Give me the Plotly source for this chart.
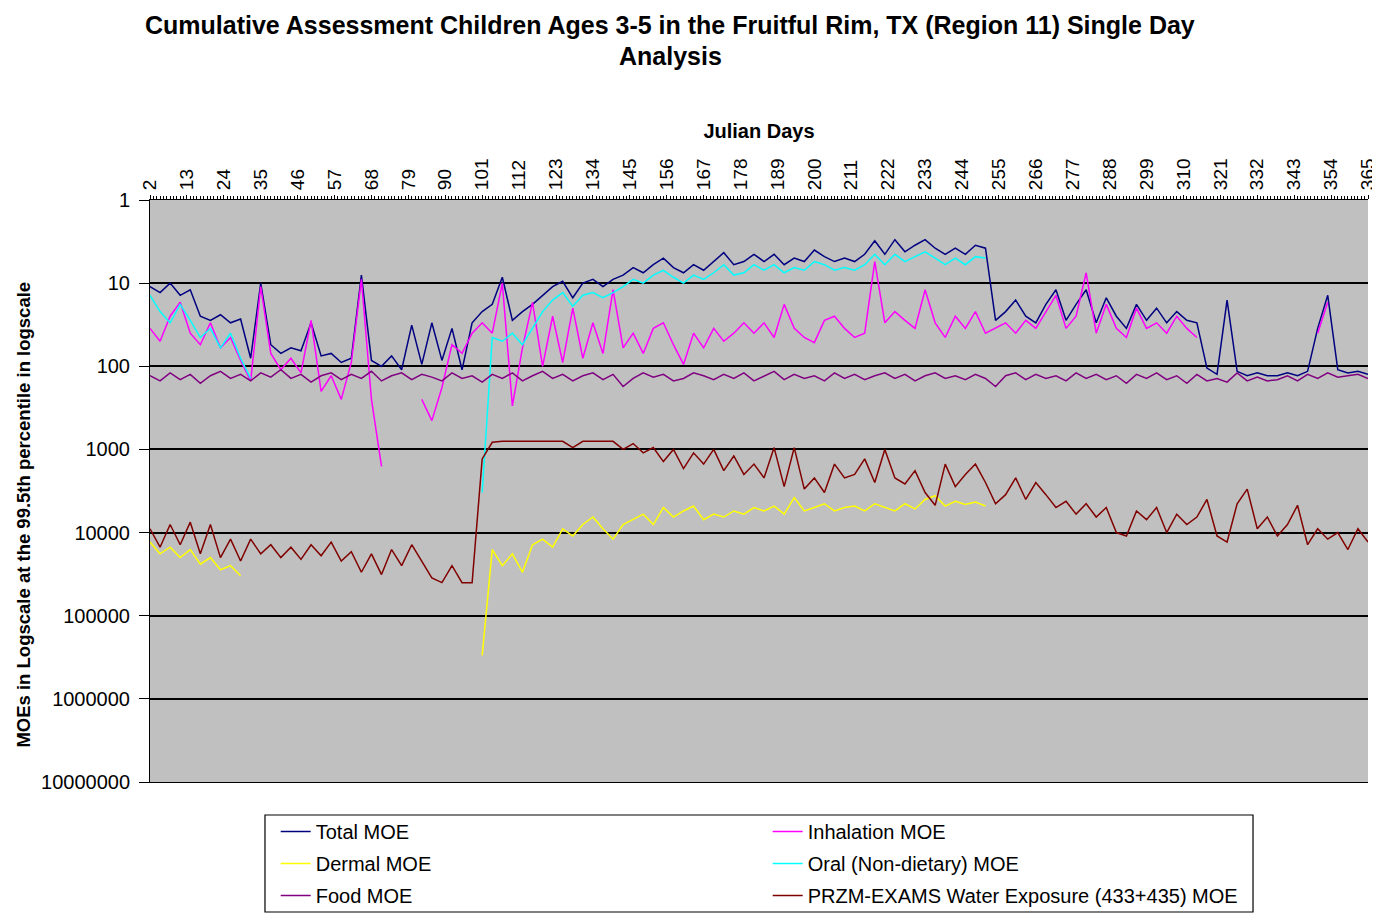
import plotly.graph_objects as go

# Julian day sample positions (every 3rd day)
days = list(range(2, 366, 3))

total_moe = [11, 13, 10, 14, 12, 25, 28, 24, 30, 27,
             80, 10, 55, 70, 60, 65, 30, 75, 70, 90,
             80, 8, 85, 100, 75, 110, 32, 95, 30, 85,
             35, 110, 30, 22, 18, 8.5, 28, 22, 18, 14,
             11, 9.5, 15, 10, 9, 11, 9, 8, 6.5, 7.5,
             6, 5, 6.5, 7.5, 6, 7, 5.5, 4.3, 6, 5.5,
             4.5, 5.5, 4.5, 6, 5, 5.5, 4, 4.8, 5.5, 5,
             5.5, 4.5, 3.1, 4.5, 3.0, 4.2, 3.5, 3.0, 3.8, 4.5,
             3.8, 4.5, 3.5, 3.8, 28, 22, 16, 25, 30, 18,
             12, 28, 18, 12, 30, 15, 25, 35, 18, 28,
             20, 30, 22, 28, 30, 105, 125, 16, 115, 130,
             120, 130, 130, 120, 130, 115, 35, 14, 110, 120,
             115, 125]

inhalation_moe = [35, 50, 25, 17, 40, 55, 30, 60, 45, 85,
                  150, 11, 70, 110, 80, 120, 28, 200, 130, 250,
                  90, 9, 250, 1600, None, None, None, 250, 450, 180,
                  55, 70, 40, 30, 40, 10, 300, 60, 17, 100,
                  25, 90, 20, 80, 30, 70, 12, 60, 40, 70,
                  35, 30, 55, 95, 40, 60, 35, 50, 40, 30,
                  40, 30, 45, 18, 35, 45, 52, 28, 25, 35,
                  45, 40, 5.5, 30, 22, 28, 35, 12, 30, 45,
                  25, 35, 22, 40, 35, 30, 40, 28, 35, 22,
                  14, 35, 25, 7.5, 40, 18, 35, 45, 20, 35,
                  30, 40, 25, 35, 45, None, None, None, None, None,
                  None, None, None, None, None, None, 40, 17, None, None,
                  None, None]

dermal_moe = [13000, 18000, 15000, 20000, 16000, 24000, 20000, 28000, 25000, 33000,
              None, None, None, None, None, None, None, None, None, None,
              None, None, None, None, None, None, None, None, None, None,
              None, None, None, 300000, 16000, 25000, 18000, 30000, 14000, 12000,
              15000, 9000, 11000, 8000, 6500, 9000, 12000, 8000, 7000, 6000,
              8000, 5000, 6500, 5500, 4800, 7000, 6000, 6500, 5500, 6000,
              5000, 5500, 4800, 6000, 3800, 5500, 5000, 4500, 5500, 5000,
              4800, 5500, 4500, 5000, 5500, 4500, 5200, 4000, 3600, 4800,
              4200, 4600, 4300, 4800, None, None, None, None, None, None,
              None, None, None, None, None, None, None, None, None, None,
              None, None, None, None, None, None, None, None, None, None,
              None, None, None, None, None, None, None, None, None, None,
              None, None]

oral_moe = [14, 22, 30, 18, 28, 45, 35, 60, 40, 80,
            140, None, None, None, None, None, None, None, None, None,
            None, None, None, None, None, None, None, None, None, None,
            None, None, None, 3300, 45, 50, 40, 55, 35, 22,
            16, 13, 19, 14, 13, 15, 13, 11, 9, 10,
            8, 7, 8.5, 10, 8, 9, 7.5, 6, 8, 7.5,
            6, 7, 6, 7.5, 6.5, 7, 5.5, 6, 7, 6.5,
            7, 6, 4.5, 6, 4.5, 5.5, 4.8, 4.2, 5, 6,
            5, 6, 4.8, 5, None, None, None, None, None, None,
            None, None, None, None, None, None, None, None, None, None,
            None, None, None, None, None, None, None, None, None, None,
            None, None, None, None, None, None, None, None, None, None,
            None, None]

food_moe = [130, 150, 120, 145, 125, 160, 130, 115, 140, 125,
            150, 120, 135, 110, 140, 125, 155, 130, 120, 145,
            125, 140, 115, 150, 130, 120, 145, 125, 135, 150,
            120, 140, 130, 155, 125, 140, 120, 150, 130, 115,
            140, 125, 150, 130, 120, 145, 125, 175, 140, 120,
            135, 125, 150, 140, 120, 130, 145, 125, 140, 120,
            150, 130, 115, 145, 125, 140, 130, 150, 120, 140,
            125, 145, 130, 120, 140, 125, 150, 130, 120, 140,
            130, 145, 125, 140, 175, 130, 120, 145, 125, 140,
            130, 150, 120, 140, 125, 145, 130, 160, 125, 140,
            120, 145, 130, 160, 125, 150, 140, 155, 120, 150,
            135, 150, 145, 130, 150, 125, 140, 120, 135, 130,
            125, 140]

water_moe = [9000, 15000, 8000, 14000, 7500, 18000, 8000, 20000, 12000, 22000,
             12000, 18000, 14000, 20000, 15000, 21000, 14000, 19000, 13000, 22000,
             17000, 30000, 18000, 32000, 16000, 25000, 14000, 22000, 35000, 40000,
             25000, 40000, 40000, 1300, 820, 800, 800, 800, 800, 800,
             800, 800, 950, 800, 800, 800, 800, 1000, 850, 1100,
             950, 1400, 1000, 1700, 1100, 1500, 1000, 1800, 1200, 2000,
             1500, 2200, 950, 2800, 950, 3000, 2200, 3300, 1500, 2200,
             2000, 1300, 2500, 1000, 2200, 2600, 1800, 3300, 4700, 1500,
             2800, 2000, 1500, 2500, 4500, 3500, 2200, 4000, 2500, 3500,
             5000, 4200, 6000, 4500, 6500, 5000, 10000, 11000, 5500, 7000,
             5000, 10000, 6000, 8000, 6500, 4000, 11000, 13000, 4500, 3000,
             9000, 6500, 11000, 8000, 4700, 14000, 9000, 12000, 10000, 16000,
             9000, 13000]

x_ticks = list(range(2, 366, 11))
y_ticks = [1, 10, 100, 1000, 10000, 100000, 1000000, 10000000]
y_labels = ["1", "10", "100", "1000", "10000", "100000", "1000000", "10000000"]

# name, values, colour, legend row
series = [
    ("Total MOE", total_moe, "#000080", "legend"),
    ("Inhalation MOE", inhalation_moe, "#FF00FF", "legend"),
    ("Dermal MOE", dermal_moe, "#FFFF00", "legend2"),
    ("Oral (Non-dietary) MOE", oral_moe, "#00FFFF", "legend2"),
    ("Food MOE", food_moe, "#800080", "legend3"),
    ("PRZM-EXAMS Water Exposure (433+435) MOE", water_moe, "#800000", "legend3"),
]

fig = go.Figure()
for name, vals, col, leg in series:
    fig.add_trace(go.Scatter(x=days, y=vals, name=name, mode="lines", legend=leg,
                             line=dict(color=col, width=1.5), connectgaps=False))

font = "Liberation Sans, Arial, sans-serif"
leg_common = dict(orientation="h", x=0.1032, xanchor="left", yanchor="middle",
                  borderwidth=0, bgcolor="rgba(0,0,0,0)",
                  entrywidth=447, entrywidthmode="pixels",
                  font=dict(size=20, family=font), traceorder="normal")
# page body adds an 8px margin, so the figure is 8px smaller than the window
fig.update_layout(
    width=1372, height=907,
    margin=dict(l=142, r=12, t=192, b=133, autoexpand=False),
    paper_bgcolor="white", plot_bgcolor="#C0C0C0",
    font=dict(family=font, color="black", size=18),
    showlegend=True,
    legend=dict(leg_common, y=-0.085),
    legend2=dict(leg_common, y=-0.140),
    legend3=dict(leg_common, y=-0.195),
)
# legend frame
fig.add_shape(type="rect", xref="paper", yref="paper", x0=0.0944, x1=0.9056,
              y0=-0.2234, y1=-0.0567, line=dict(color="black", width=1.2))

# two-line chart title
fig.add_annotation(text="<b>Cumulative Assessment Children Ages 3-5 in the Fruitful Rim, TX (Region 11) Single Day</b>",
                   xref="paper", yref="paper", x=0.427, y=1.3007, yanchor="middle",
                   showarrow=False, font=dict(size=25, family=font))
fig.add_annotation(text="<b>Analysis</b>", xref="paper", yref="paper", x=0.427, y=1.2474,
                   yanchor="middle", showarrow=False, font=dict(size=25, family=font))

fig.update_xaxes(side="top", range=[2, 365], tickvals=x_ticks, tickangle=-90,
                 ticks="outside", ticklen=4, tickcolor="black", automargin=False,
                 minor=dict(dtick=1, ticks="outside", ticklen=3, tickcolor="black"),
                 showgrid=False, showline=True, linecolor="black", linewidth=1, mirror=True,
                 zeroline=False, tickfont=dict(size=19), ticklabelstandoff=1,
                 title=dict(text="<b>Julian Days</b>", font=dict(size=20), standoff=14))
fig.update_yaxes(type="log", range=[7, 0], tickvals=y_ticks, ticktext=y_labels,
                 ticks="outside", ticklen=10, tickcolor="black", automargin=False,
                 showgrid=True, gridcolor="black", gridwidth=1.5,
                 showline=True, linecolor="black", linewidth=1,
                 tickfont=dict(size=20), ticklabelstandoff=5, zeroline=False)
fig.add_annotation(text="<b>MOEs in Logscale at the 99.5th percentile in logscale</b>",
                   xref="paper", yref="paper", x=-0.104, y=0.46, xanchor="center",
                   textangle=-90, showarrow=False, font=dict(size=18.5, family=font))

fig.write_html("out.html")
